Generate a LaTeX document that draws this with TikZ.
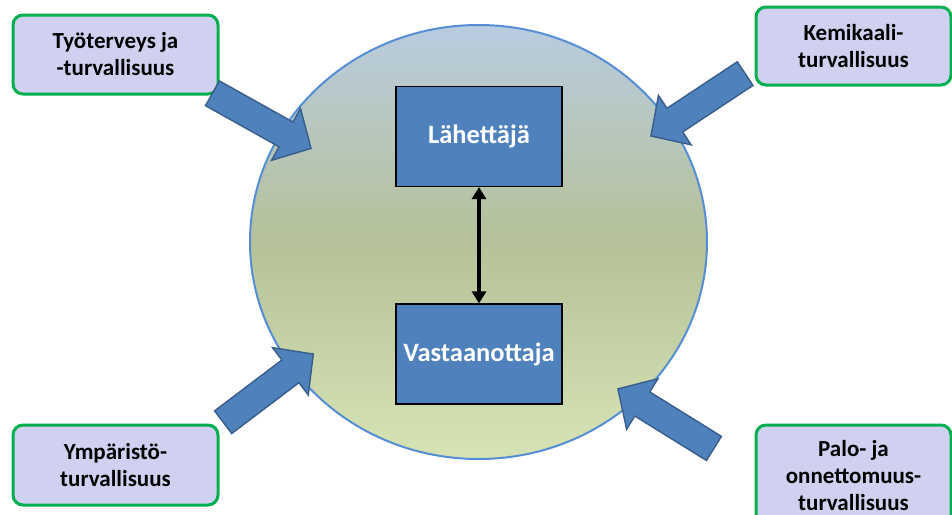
\documentclass[tikz,border=0pt]{standalone}
\usepackage{fontspec}
\setmainfont{Carlito}
\usetikzlibrary{arrows.meta,shapes.geometric,shapes.arrows,positioning}
\definecolor{topicfill}{RGB}{208,209,240}
\definecolor{topicline}{RGB}{0,176,80}
\definecolor{partyblue}{RGB}{79,129,189}
\definecolor{pushline}{RGB}{56,93,138}
\definecolor{ringblue}{RGB}{85,142,213}
\definecolor{skytop}{RGB}{184,204,224}
\definecolor{olivemid}{RGB}{181,193,152}
\definecolor{greenbot}{RGB}{214,228,181}

\begin{document}
\begin{tikzpicture}[>={Triangle[length=12bp,width=14bp]},
	topic/.style={draw=topicline,line width=3bp,fill=topicfill,rounded corners=10bp,
		minimum width=205bp,minimum height=79bp,inner sep=0pt,align=center,
		font=\bfseries\fontsize{23bp}{27bp}\selectfont},
	party/.style={draw=black,line width=1.2bp,fill=partyblue,text=white,
		minimum width=166bp,minimum height=100bp,font=\bfseries\fontsize{26.5bp}{30bp}\selectfont},
	push/.style={single arrow,draw=pushline,line width=1.4bp,fill=partyblue,
		minimum height=113bp,inner xsep=0pt,inner ysep=13.5bp,
		single arrow head extend=15.5bp,single arrow tip angle=92}]
	\useasboundingbox (0bp,0bp) rectangle (952bp,-515bp);

	\node (field) at (478.5bp,-242bp) [ellipse,draw=ringblue,line width=2bp,
		top color=skytop,bottom color=greenbot,middle color=olivemid,
		minimum width=457bp,minimum height=434bp,inner sep=0pt] {};

	\node (send) at (479bp,-136.5bp) [party] {Lähettäjä};
	\node (recv) at (479bp,-354bp)   [party] {Vastaanottaja};
	\draw [<->,line width=3.5bp] (send) -- (recv);

	% block arrows pointing into the field
	\node (pushTR) at (703.75bp,-101bp)   [push,rotate=213.5] {};
	\node (pushBR) at (671.75bp,-422.25bp) [push,rotate=148.2] {};

	\node (work)  at (115.5bp,-54.5bp) [topic] {Työterveys ja\\-turvallisuus};
	\node (chem)  at (853.5bp,-46bp)   [topic,minimum width=195bp,minimum height=78bp] {Kemikaali-\\turvallisuus};
	\node (envir) at (115.5bp,-465bp)  [topic,minimum height=80bp] {Ympäristö-\\turvallisuus};
	\node (fire)  at (853.5bp,-476bp)  [topic,minimum width=195bp,minimum height=102bp] {Palo- ja\\onnettomuus-\\turvallisuus};

	\node (pushTL) at (255.75bp,-117.5bp) [push,rotate=-29.2] {};
	\node (pushBL) at (262.75bp,-392.25bp) [push,rotate=37.1] {};
\end{tikzpicture}
\end{document}
